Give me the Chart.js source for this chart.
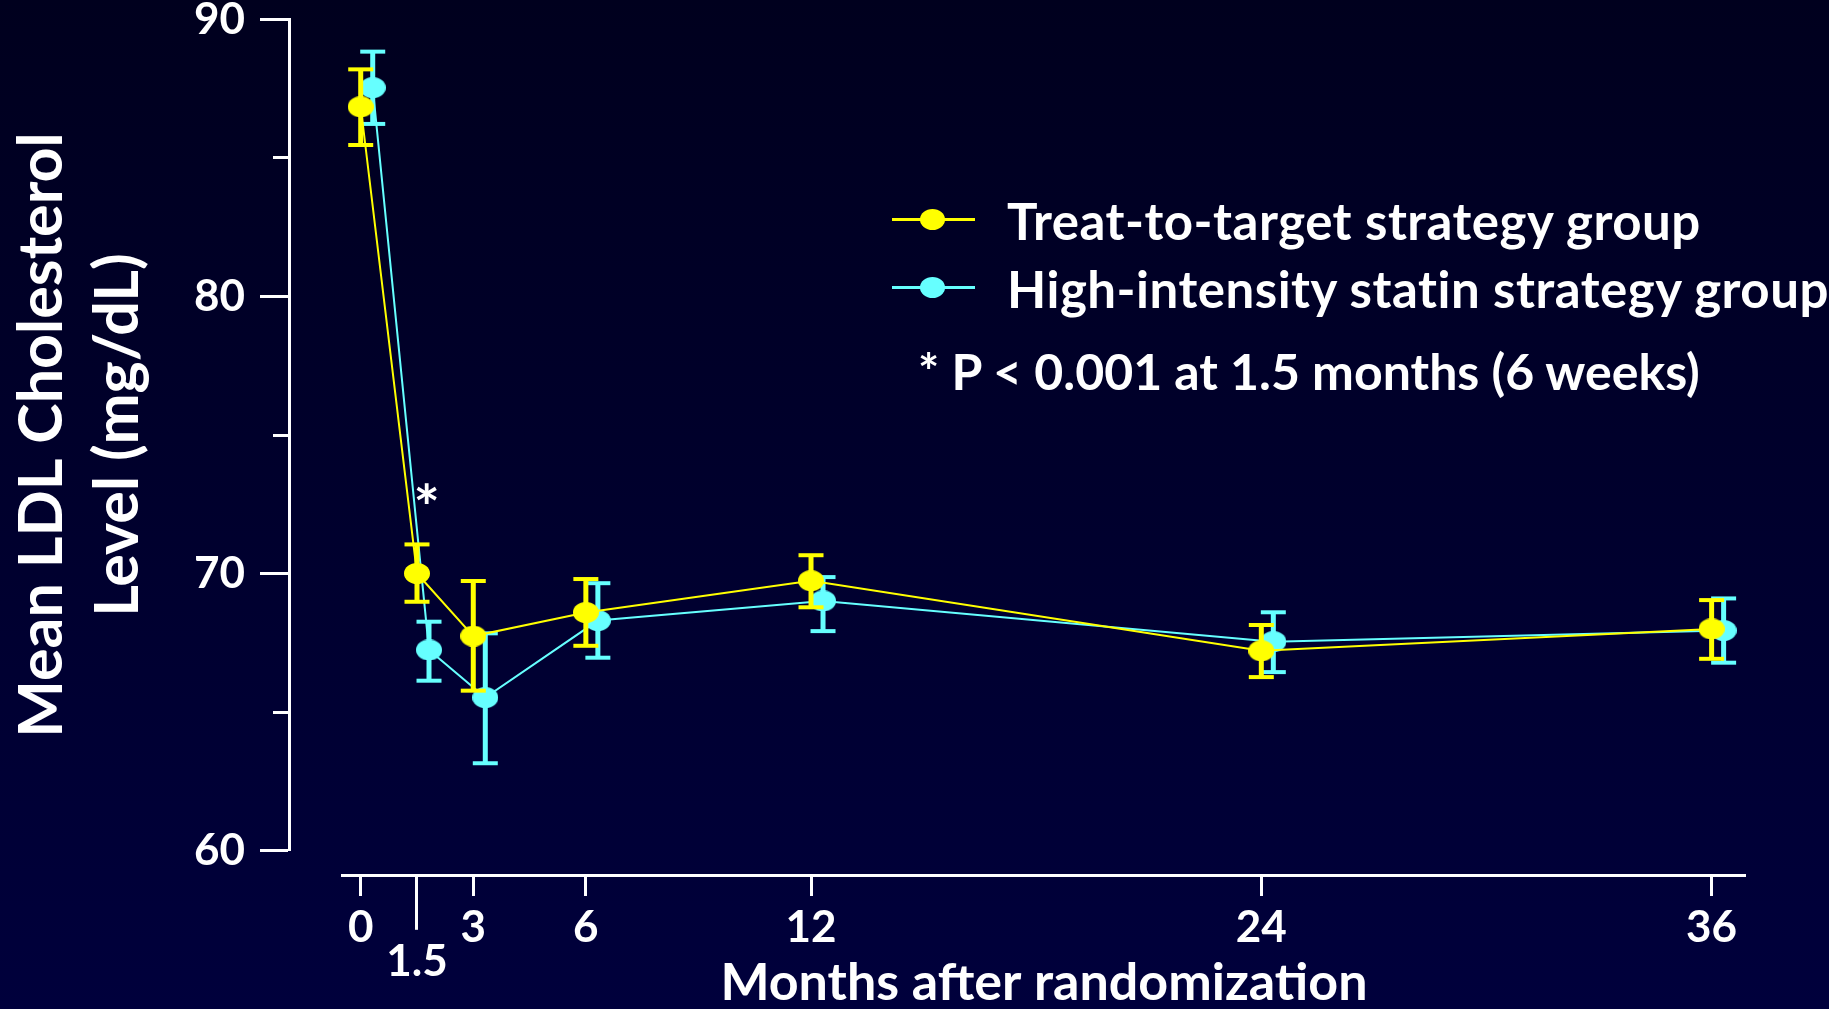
<!DOCTYPE html>
<html><head><meta charset="utf-8">
<script src="https://cdn.jsdelivr.net/npm/chart.js@4/dist/chart.umd.min.js"></script>
<style>
html,body{margin:0;padding:0;width:1829px;height:1009px;overflow:hidden;background:linear-gradient(#00001e,#00003c);}
#wrap{position:relative;width:1829px;height:1009px;}
canvas{position:absolute;left:0;top:0;}
.leg{position:absolute;font-family:Lato,sans-serif;font-weight:700;color:#fff;white-space:nowrap;line-height:1;}
.mk{position:absolute;height:3px;}
.dot{position:absolute;border-radius:50%;}
</style></head>
<body><div id="wrap"><canvas id="c" width="1829" height="1009"></canvas><div id="legend"></div></div>
<script>
// ---- data ----
const MONTHS = [0, 1.5, 3, 6, 12, 24, 36];
const X_TICK_LABELS = ['0', '1.5', '3', '6', '12', '24', '36'];
const X_TICK_DROPPED = [false, true, false, false, false, false, false];
const Y_TICK_VALUES = [60, 65, 70, 75, 80, 85, 90];
const Y_TICK_LABELS = ['60', '', '70', '', '80', '', '90'];

const T2T_MEAN = [86.85, 70.00, 67.74, 68.59, 69.74, 67.21, 68.00];
const T2T_LOW  = [85.47, 68.98, 65.77, 67.39, 68.78, 66.26, 66.92];
const T2T_HIGH = [88.20, 71.05, 69.73, 69.80, 70.66, 68.14, 69.04];

const HI_MEAN = [87.54, 67.24, 65.52, 68.30, 69.01, 67.54, 67.94];
const HI_LOW  = [86.23, 66.13, 63.15, 66.96, 67.92, 66.44, 66.78];
const HI_HIGH = [88.84, 68.26, 67.84, 69.65, 69.87, 68.60, 69.10];

const SERIES_NAMES = ['Treat-to-target strategy group', 'High-intensity statin strategy group'];
const SERIES_COLORS = ['#ffff00', '#66ffff'];
const SERIES_DODGE = [0, 0.32];   // horizontal offset (months) used to separate the groups
const NOTE_TEXT = '* P < 0.001 at 1.5 months (6 weeks)';
const STAR_TEXT = '*';
const STAR_AT = {month: 1.76, value: 72.3};
const Y_TITLE = ['Mean LDL Cholesterol', 'Level (mg/dL)'];
const X_TITLE = 'Months after randomization';

// ---- helpers ----
function ellipseImage(color) {
  const c = document.createElement('canvas');
  c.width = 26; c.height = 21;
  const g = c.getContext('2d');
  g.fillStyle = color;
  g.beginPath(); g.ellipse(13, 10.5, 13, 10.5, 0, 0, Math.PI * 2); g.fill();
  return c;
}
function seriesDatasets(mean, low, high, idx, baseOrder) {
  const col = SERIES_COLORS[idx], dx = SERIES_DODGE[idx];
  const stems = MONTHS.flatMap((m, i) => [{x: m + dx, y: low[i]}, {x: m + dx, y: high[i]}, {x: m + dx, y: null}]);
  const caps = MONTHS.flatMap((m, i) => [{x: m + dx, y: low[i]}, {x: m + dx, y: high[i]}]);
  const pts = MONTHS.map((m, i) => ({x: m + dx, y: mean[i]}));
  return [
    {label: SERIES_NAMES[idx] + ' SE', data: stems, borderColor: col, borderWidth: 5, pointRadius: 0, spanGaps: false, order: baseOrder + 2, clip: false, borderCapStyle: 'butt'},
    {label: SERIES_NAMES[idx] + ' caps', data: caps, showLine: false, pointStyle: 'line', pointRadius: 12.5, pointBorderWidth: 4, pointBorderColor: col, borderColor: col, order: baseOrder + 1, clip: false},
    {label: SERIES_NAMES[idx], data: pts, borderColor: col, backgroundColor: col, borderWidth: 2, pointStyle: ellipseImage(col), pointRadius: 13, tension: 0, order: baseOrder, clip: false}
  ];
}

const starPlugin = {
  id: 'star',
  afterDatasetsDraw(chart) {
    const {ctx, scales: {x, y}} = chart;
    ctx.save();
    ctx.fillStyle = '#ffffff';
    ctx.font = 'bold 62px Lato';
    ctx.textAlign = 'center';
    ctx.textBaseline = 'middle';
    ctx.fillText(STAR_TEXT, x.getPixelForValue(STAR_AT.month), y.getPixelForValue(STAR_AT.value));
    ctx.restore();
  }
};

const X_MIN = -0.488, X_MAX = 36.903;

new Chart(document.getElementById('c'), {
  type: 'line',
  data: {
    datasets: [
      ...seriesDatasets(T2T_MEAN, T2T_LOW, T2T_HIGH, 0, 1),
      ...seriesDatasets(HI_MEAN, HI_LOW, HI_HIGH, 1, 10)
    ]
  },
  options: {
    responsive: false,
    animation: false,
    events: [],
    layout: {padding: {left: 0, right: 83.5, top: 19.5, bottom: 0}},
    plugins: {legend: {display: false}, tooltip: {enabled: false}},
    scales: {
      x: {
        type: 'linear', position: 'bottom', weight: 1, min: X_MIN, max: X_MAX,
        afterBuildTicks: s => { s.ticks = MONTHS.map(v => ({value: v})); },
        afterFit: s => { s.height = 133.2; },
        ticks: {
          autoSkip: false, maxRotation: 0, color: '#ffffff', padding: -19,
          font: {family: 'Lato', size: 44, weight: 'bold', lineHeight: 0.773},
          callback: v => { const i = MONTHS.indexOf(v); return X_TICK_DROPPED[i] ? ['', X_TICK_LABELS[i]] : X_TICK_LABELS[i]; }
        },
        grid: {
          display: true, drawOnChartArea: false, drawTicks: true, tickLength: 54, tickWidth: 3, tickColor: '#ffffff',
          tickBorderDash: ctx => (ctx.tick && X_TICK_DROPPED[MONTHS.indexOf(ctx.tick.value)]) ? [] : [19, 300]
        },
        border: {display: true, color: '#ffffff', width: 3},
        title: {display: true, text: X_TITLE, color: '#ffffff', font: {family: 'Lato', size: 52, weight: 'bold', lineHeight: 1}, padding: 0}
      },
      xGap: {
        type: 'linear', position: 'bottom', weight: 0, display: true,
        ticks: {display: false}, grid: {display: false}, border: {display: false},
        afterFit: s => { s.height = 25.3; }
      },
      y: {
        type: 'linear', position: 'left', weight: 1, min: 60, max: 90,
        afterBuildTicks: s => { s.ticks = Y_TICK_VALUES.map(v => ({value: v})); },
        afterFit: s => { s.width = 289; },
        ticks: {
          color: '#ffffff', padding: 15,
          font: {family: 'Lato', size: 44, weight: 'bold', lineHeight: 0.1},
          callback: v => Y_TICK_LABELS[Y_TICK_VALUES.indexOf(v)]
        },
        grid: {
          display: true, drawOnChartArea: false, drawTicks: true, tickLength: 29, tickWidth: 3, tickColor: '#ffffff',
          tickBorderDash: ctx => (ctx.tick && Y_TICK_LABELS[Y_TICK_VALUES.indexOf(ctx.tick.value)] === '') ? [0, 13, 16, 300] : []
        },
        border: {display: true, color: '#ffffff', width: 3},
        title: {display: true, text: Y_TITLE, color: '#ffffff', font: {family: 'Lato', size: 61, weight: 'bold', lineHeight: 1.24}, padding: {top: 5, bottom: 0}}
      },
      yGap: {
        type: 'linear', position: 'left', weight: 0, display: true,
        ticks: {display: false}, grid: {display: false}, border: {display: false},
        afterFit: s => { s.width = 53.4; }
      }
    }
  },
  plugins: [starPlugin]
});

// ---- legend (HTML text) ----
const leg = document.getElementById('legend');
const rowCenters = [219, 287];
SERIES_NAMES.forEach((name, i) => {
  const col = SERIES_COLORS[i];
  const line = document.createElement('div');
  line.className = 'mk';
  line.style.cssText = `left:892px;top:${rowCenters[i] - 1.5}px;width:83px;background:${col}`;
  const dot = document.createElement('div');
  dot.className = 'dot';
  dot.style.cssText = `left:${932.5 - 12.5}px;top:${rowCenters[i] - 10.5}px;width:25px;height:21px;background:${col}`;
  const txt = document.createElement('div');
  txt.className = 'leg';
  txt.style.cssText = `left:1007px;top:${rowCenters[i] - 24}px;font-size:51px;letter-spacing:0.5px;`;
  txt.textContent = name;
  leg.append(line, dot, txt);
});
const note = document.createElement('div');
note.className = 'leg';
note.style.cssText = 'left:918px;top:346px;font-size:50px;';
note.textContent = NOTE_TEXT;
leg.append(note);
</script>
</body></html>
